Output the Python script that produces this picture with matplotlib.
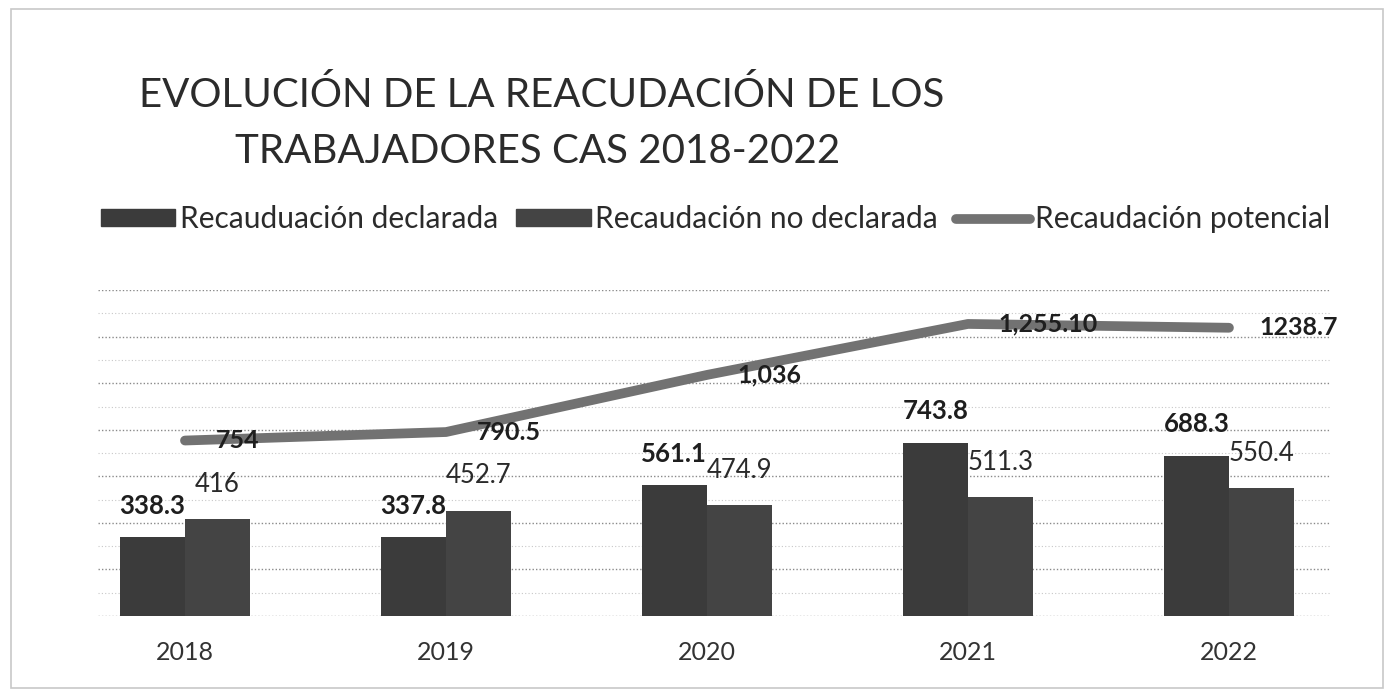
import matplotlib
matplotlib.use("Agg")
import matplotlib.pyplot as plt
import numpy as np
from matplotlib.patches import Rectangle
from matplotlib.lines import Line2D

plt.rcParams['font.family'] = ['Lato', 'DejaVu Sans']

years = ["2018", "2019", "2020", "2021", "2022"]
declarada = [338.3, 337.8, 561.1, 743.8, 688.3]
no_declarada = [416, 452.7, 474.9, 511.3, 550.4]
potencial = [754, 790.5, 1036, 1255.10, 1238.7]
declarada_lbl = ["338.3", "337.8", "561.1", "743.8", "688.3"]
no_declarada_lbl = ["416", "452.7", "474.9", "511.3", "550.4"]
potencial_lbl = ["754", "790.5", "1,036", "1,255.10", "1238.7"]

fig = plt.figure(figsize=(13.89, 6.96), dpi=100)
fig.patch.set_facecolor('white')
fig.patches.append(Rectangle((0.008, 0.012), 0.988, 0.975, transform=fig.transFigure,
                             fill=False, edgecolor='#c8c8c8', linewidth=1.2))

ax = fig.add_axes([0.0706, 0.115, 0.8869, 0.468])
x = np.arange(len(years))
w = 0.25
c1 = '#3b3b3b'
c2 = '#444444'
cl = '#727272'

ax.bar(x - w/2, declarada, w, color=c1, zorder=3)
ax.bar(x + w/2, no_declarada, w, color=c2, zorder=3)
ax.plot(x, potencial, color=cl, linewidth=7, solid_capstyle='round', zorder=4)

for i in range(len(years)):
    ax.annotate(declarada_lbl[i], (x[i] - w/2, declarada[i]), xytext=(0, 14),
                textcoords='offset points', ha='center', va='bottom',
                fontsize=18.5, fontweight='bold', color='#1e1e1e', zorder=5)
    ax.annotate(no_declarada_lbl[i], (x[i] + w/2, no_declarada[i]), xytext=(0, 16),
                textcoords='offset points', ha='center', va='bottom',
                fontsize=18.5, color='#2a2a2a', zorder=5)
    ax.annotate(potencial_lbl[i], (x[i], potencial[i]), xytext=(22, 0),
                textcoords='offset points', ha='left', va='center',
                fontsize=18, fontweight='bold', color='#1e1e1e', zorder=5)

ax.set_ylim(0, 1400)
ax.set_xlim(-0.333, 4.387)
ax.set_yticks(np.arange(0, 1401, 200))
ax.set_yticks(np.arange(100, 1400, 200), minor=True)
ax.grid(axis='y', which='major', linestyle=(0, (1, 1.5)), color='#8a8a8a', linewidth=1.0, zorder=0)
ax.grid(axis='y', which='minor', linestyle=(0, (1, 2)), color='#c8c8c8', linewidth=0.8, zorder=0)
ax.tick_params(axis='y', which='both', left=False, labelleft=False)
ax.set_xticks(x)
ax.set_xticklabels(years, fontsize=18, color='#333333')
ax.tick_params(axis='x', length=0, pad=18)
for s in ax.spines.values():
    s.set_visible(False)

fig.text(0.39, 0.8635, "EVOLUCIÓN DE LA REACUDACIÓN DE LOS", ha='center', va='center',
         fontsize=29, color='#2b2b2b')
fig.text(0.387, 0.782, "TRABAJADORES CAS 2018-2022", ha='center', va='center',
         fontsize=29, color='#2b2b2b')

handles = [Rectangle((0, 0), 1, 1, color=c1), Rectangle((0, 0), 1, 1, color=c2),
           Line2D([0], [0], color=cl, linewidth=7, solid_capstyle='round')]
labels = ['Recauduación declarada', 'Recaudación no declarada', 'Recaudación potencial']
leg = fig.legend(handles, labels, loc='center', bbox_to_anchor=(0.515, 0.685), ncol=3,
                 frameon=False, fontsize=21.5, handlelength=2.5, handleheight=0.5,
                 handletextpad=0.15, columnspacing=0.6)
for t in leg.get_texts():
    t.set_color('#2b2b2b')

fig.savefig('out.png', dpi=100, facecolor='white')
